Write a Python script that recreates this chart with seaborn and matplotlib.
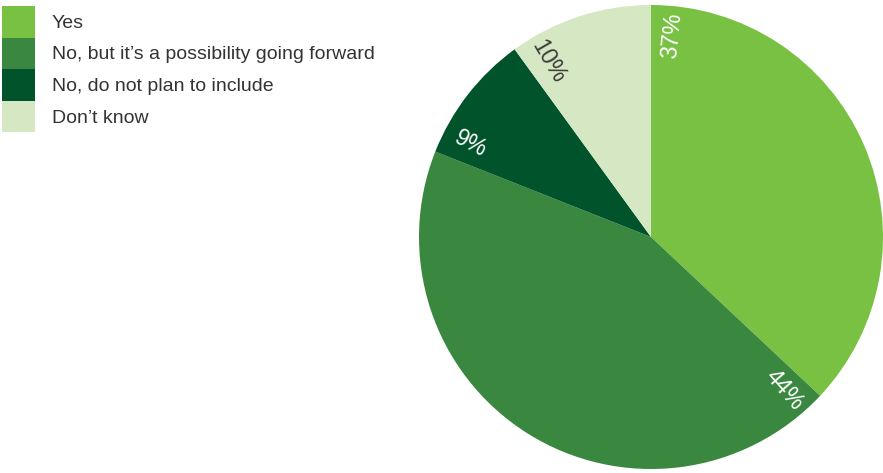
import numpy as np
import matplotlib
matplotlib.use("Agg")
import matplotlib.pyplot as plt
import seaborn as sns

categories = ["Yes", "No, but it\u2019s a possibility going forward",
              "No, do not plan to include", "Don\u2019t know"]
values = [37, 44, 9, 10]
pct_labels = ["37%", "44%", "9%", "10%"]
colors = ["#79c143", "#3a873f", "#00532b", "#d6e8c3"]
label_colors = ["white", "white", "white", "#3a3a3a"]

sns.set_theme(style="white")
plt.rcParams["font.family"] = ["Liberation Sans", "DejaVu Sans"]

W, H = 883, 473
fig = plt.figure(figsize=(W / 100, H / 100), dpi=100)
cx, cy, r = 651, 236, 232
ax = fig.add_axes([(cx - r) / W, (cy - r) / H, 2 * r / W, 2 * r / H])

wedges, _ = ax.pie(values, colors=colors, startangle=90, counterclock=False,
                   wedgeprops=dict(linewidth=0))
ax.set_xlim(-1, 1)
ax.set_ylim(-1, 1)
ax.set_aspect("equal")

for w, lab, col in zip(wedges, pct_labels, label_colors):
    start = w.theta2  # clockwise: wedge starts at theta2
    ang = start - 5.8
    rad = np.deg2rad(ang)
    x, y = 0.875 * np.cos(rad), 0.875 * np.sin(rad)
    rot = ang
    while rot > 90:
        rot -= 180
    while rot < -90:
        rot += 180
    ax.text(x, y, lab, color=col, rotation=rot, rotation_mode="anchor",
            ha="center", va="center", fontsize=16.5)

fs = 14
leg = ax.legend(wedges, categories, loc="upper left",
                bbox_to_anchor=(2 / W, 1 - 6 / H), bbox_transform=fig.transFigure,
                frameon=False, fontsize=fs, handlelength=1.7, handleheight=2.12,
                handletextpad=0.85, labelspacing=0.0, borderpad=0, borderaxespad=0)
for t in leg.get_texts():
    t.set_color("#333333")

fig.savefig("out.png", dpi=100)
